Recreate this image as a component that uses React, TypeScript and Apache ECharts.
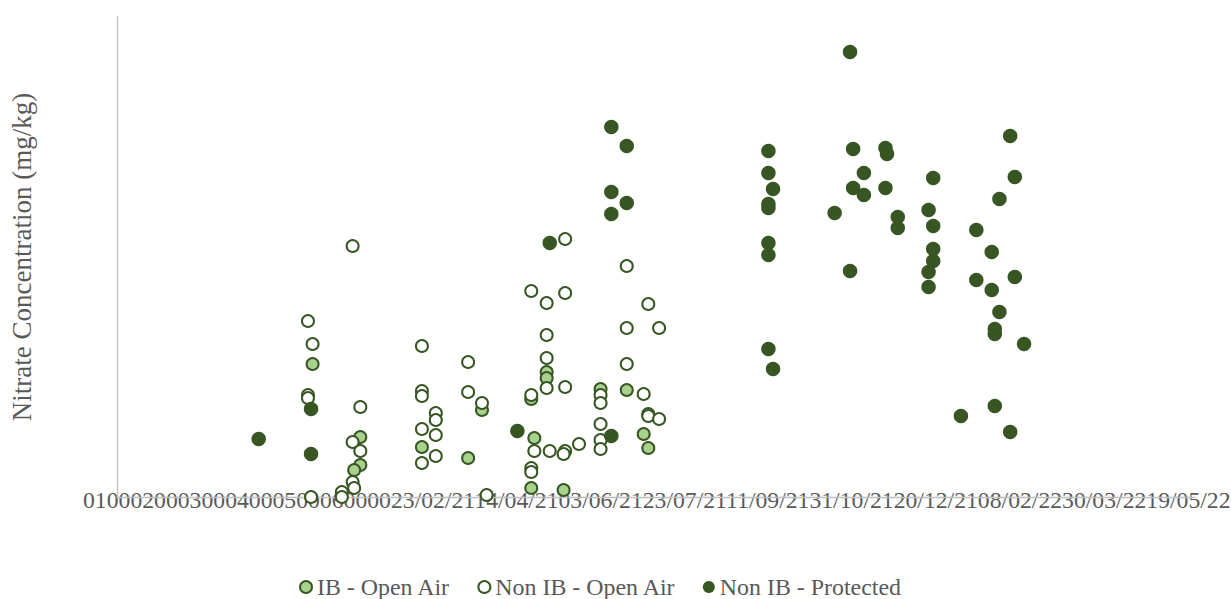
import React, { useEffect, useRef } from "react";
import * as echarts from "echarts";

// x: sampling date as spreadsheet serial day number, y: nitrate (mg/kg)
const ibOpenAir: [number, number][] = [
  [44127, 66.5], [44158, 30], [44158, 16], [44154, 13.5], [44198, 25],
  [44228, 19.5], [44237, 43.5], [44279, 62.5], [44279, 59.5], [44314, 54],
  [44331, 53.5], [44269, 49], [44342, 31.5], [44271, 29.5], [44345, 24.5],
  [44269, 4.5], [44290, 3.5],
];

const nonIbOpenAir: [number, number][] = [
  [44153, 125.5], [44124, 88], [44127, 76.5], [44124, 51], [44124, 49.5],
  [44158, 45], [44153, 27.5], [44158, 23], [44153, 7.5], [44154, 4.5],
  [44146, 2.5], [44146, 0], [44126, 0], [44198, 75.5], [44198, 53],
  [44198, 50.5], [44207, 42], [44207, 38.5], [44198, 34], [44207, 31],
  [44207, 20.5], [44198, 17], [44228, 67.5], [44228, 52.5], [44237, 47],
  [44240, 1], [44291, 129], [44331, 115.5], [44269, 103], [44291, 102],
  [44279, 97], [44345, 96.5], [44331, 84.5], [44352, 84.5], [44279, 81],
  [44279, 69.5], [44331, 66.5], [44279, 54.5], [44291, 55], [44314, 51],
  [44314, 47], [44342, 51.5], [44269, 51], [44345, 41.5], [44345, 40.5],
  [44352, 39], [44314, 36.5], [44314, 28.5], [44300, 26.5], [44281, 23],
  [44271, 23], [44291, 23], [44290, 21.5], [44314, 24], [44269, 14.5],
  [44269, 12.5],
];

const nonIbProtected: [number, number][] = [
  [44092, 29], [44126, 44], [44126, 21.5], [44260, 33], [44281, 127],
  [44321, 30.5], [44321, 185], [44331, 175.5], [44321, 152.5], [44331, 147],
  [44321, 141.5], [44476, 222.5], [44423, 173], [44478, 174], [44499, 174.5],
  [44500, 171.5], [44423, 162], [44485, 162], [44426, 154], [44478, 154.5],
  [44499, 154.5], [44485, 151], [44423, 146.5], [44423, 144.5], [44466, 142],
  [44507, 140], [44507, 134.5], [44423, 127], [44423, 121], [44476, 113],
  [44423, 74], [44426, 64], [44580, 180.5], [44530, 159.5], [44583, 160],
  [44573, 149], [44527, 143.5], [44530, 135.5], [44558, 133.5], [44568, 122.5],
  [44530, 124], [44530, 118], [44527, 112.5], [44583, 110], [44558, 108.5],
  [44568, 103.5], [44527, 105], [44573, 92.5], [44570, 84], [44570, 81.5],
  [44589, 76.5], [44570, 45.5], [44548, 40.5], [44580, 32.5],
];

const xTickLabels: string[] = [
  "0", "1000", "2000", "3000", "4000", "5000", "6000", "0",
  "23/02/21", "14/04/21", "03/06/21", "23/07/21", "11/09/21",
  "31/10/21", "20/12/21", "08/02/22", "30/03/22", "19/05/22",
];

const seriesNames = ["IB - Open Air", "Non IB - Open Air", "Non IB - Protected"];
const yAxisTitle = "Nitrate Concentration (mg/kg)";

const DARK = "#375623";
const LIGHT = "#a9d18e";
const TEXT = "#595959";
const AXIS = "#bfbfbf";
const FONT = "'Liberation Serif', 'Times New Roman', serif";

export default function App() {
  const ref = useRef<HTMLDivElement>(null);

  useEffect(() => {
    if (!ref.current) return;
    const chart = echarts.init(ref.current, undefined, { renderer: "svg" });
    chart.setOption({
      animation: false,
      backgroundColor: "#ffffff",
      grid: { left: 117, right: 36, top: 17, bottom: 102 },
      xAxis: {
        type: "value",
        min: 44000,
        max: 44700,
        axisLine: { show: true, lineStyle: { color: AXIS, width: 1.3 } },
        axisTick: { show: false },
        axisLabel: { show: false },
        splitLine: { show: false },
      },
      yAxis: {
        type: "value",
        min: 0,
        max: 240,
        name: yAxisTitle,
        nameLocation: "middle",
        nameGap: 82,
        nameTextStyle: { color: TEXT, fontFamily: FONT, fontSize: 27 },
        axisLine: { show: true, lineStyle: { color: AXIS, width: 1.3 } },
        axisTick: { show: false },
        axisLabel: { show: false },
        splitLine: { show: false },
      },
      legend: {
        top: 575,
        left: 299,
        padding: 0,
        itemWidth: 12,
        itemHeight: 12,
        itemGap: 27,
        textStyle: { color: TEXT, fontFamily: FONT, fontSize: 23.9 },
        data: seriesNames.map((n) => ({ name: n, icon: "circle" })),
      },
      graphic: [
        {
          type: "text",
          x: 83,
          y: 500,
          silent: true,
          style: {
            text: xTickLabels.join(""),
            fill: TEXT,
            fontFamily: FONT,
            fontSize: 23.7,
            align: "left",
            verticalAlign: "middle",
          },
        },
      ],
      series: [
        {
          name: seriesNames[0],
          type: "scatter",
          symbol: "circle",
          symbolSize: 12,
          data: ibOpenAir,
          itemStyle: { color: LIGHT, borderColor: DARK, borderWidth: 2, opacity: 1 },
        },
        {
          name: seriesNames[1],
          type: "scatter",
          symbol: "circle",
          symbolSize: 12,
          data: nonIbOpenAir,
          itemStyle: { color: "#ffffff", borderColor: DARK, borderWidth: 2, opacity: 1 },
        },
        {
          name: seriesNames[2],
          type: "scatter",
          symbol: "circle",
          symbolSize: 14.5,
          data: nonIbProtected,
          itemStyle: { color: DARK, opacity: 1 },
        },
      ],
    });
    return () => chart.dispose();
  }, []);

  return (
    <div
      ref={ref}
      style={{ position: "fixed", left: 0, top: 0, width: 1231, height: 599, background: "#fff" }}
    />
  );
}
